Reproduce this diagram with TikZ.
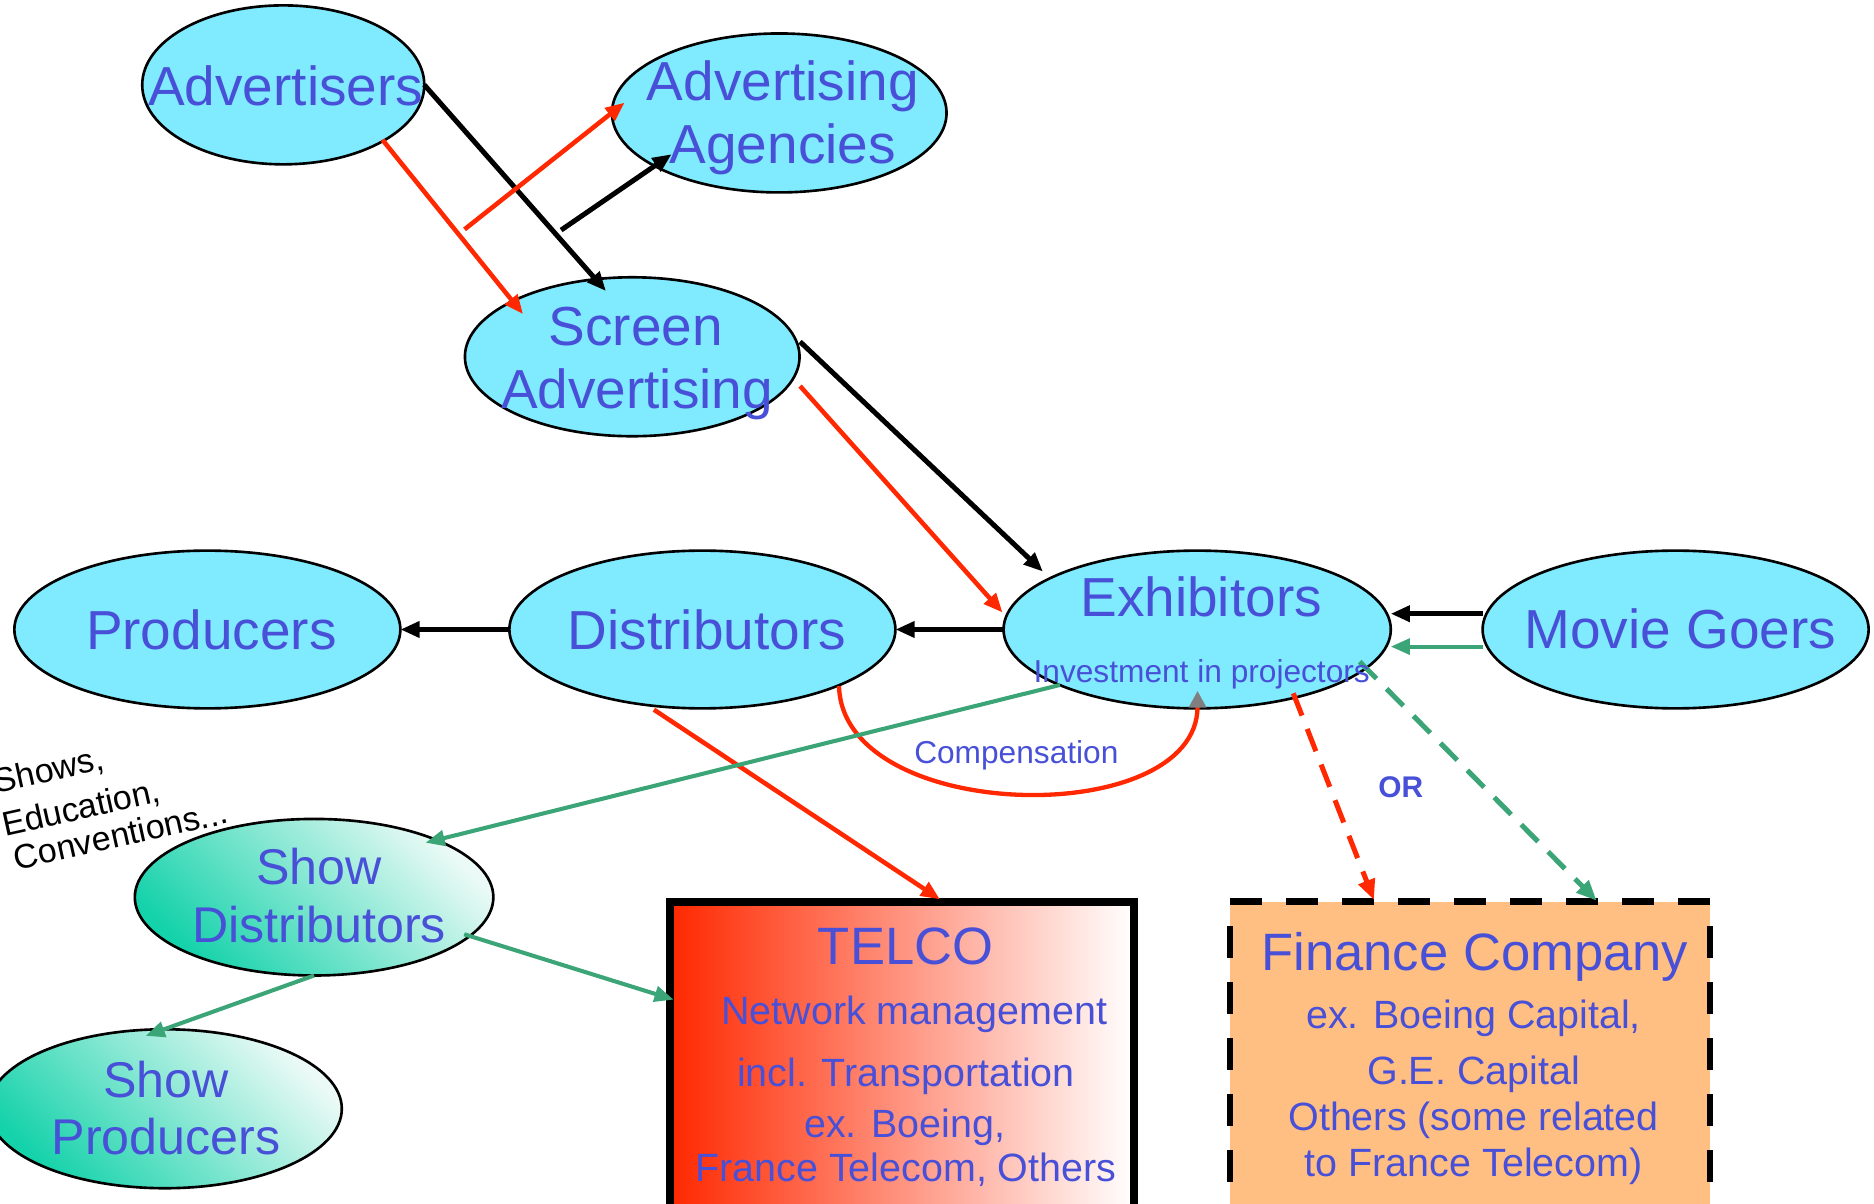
\documentclass[tikz,border=0pt]{standalone}
\usepackage{fontspec}
\setmainfont{Liberation Sans}
\usetikzlibrary{shapes.geometric,arrows.meta,calc}
\definecolor{cyanF}{RGB}{128,234,255}
\definecolor{tblue}{RGB}{72,80,216}
\definecolor{redc}{RGB}{255,40,0}
\definecolor{greenc}{RGB}{60,165,120}
\definecolor{orangeF}{RGB}{255,190,130}
\definecolor{tealA}{RGB}{20,210,170}
\definecolor{tealB}{RGB}{235,250,246}
\begin{document}
\begin{tikzpicture}[x=1pt,y=-1pt,
  ell/.style={ellipse,draw=black,line width=2.2pt,fill=cyanF,inner sep=0pt,outer sep=0pt},
  showell/.style={ellipse,draw=black,line width=2.2pt,inner sep=0pt,outer sep=0pt,bottom color=tealA,top color=tealB,shading angle=-45},
  bigtxt/.style={font=\fontsize{46}{50}\selectfont,text=tblue,anchor=base,inner sep=0pt},
  showtxt/.style={font=\fontsize{42}{46}\selectfont,text=tblue,anchor=base,inner sep=0pt},
  midtxt/.style={font=\fontsize{33}{38}\selectfont,text=tblue,anchor=base,inner sep=0pt},
  ttltxt/.style={font=\fontsize{44}{50}\selectfont,text=tblue,anchor=base,inner sep=0pt},
  smalltxt/.style={font=\fontsize{26.5}{30}\selectfont,text=tblue,anchor=base,inner sep=0pt},
  ortxt/.style={font=\fontsize{25}{30}\selectfont\bfseries,text=tblue,anchor=base,inner sep=0pt},
  showstxt/.style={font=\fontsize{28.5}{32}\selectfont,text=black,anchor=base west,inner sep=0pt,rotate=12.5},
  arr/.style={-{Triangle[length=16pt,width=13pt]}},
  blk/.style={arr,line width=4.2pt,draw=black},
  rd/.style={arr,line width=3.8pt,draw=redc},
  gr/.style={arr,line width=3.4pt,draw=greenc},
  dsh/.style={line width=4.2pt,dash pattern=on 20pt off 12pt,-{Triangle[length=17pt,width=14pt]}},
  fdash/.style={line width=5.6pt,draw=black,dash pattern=on 26.5pt off 20.4pt},
]
\useasboundingbox (0,0) rectangle (1568,1007);
% ellipses
\node[ell,minimum width=236pt,minimum height=133pt] (adv) at (237,71) {};
\node[ell,minimum width=280pt,minimum height=133pt] (age) at (652,94.5) {};
\node[ell,minimum width=280pt,minimum height=133pt] (scr) at (529,298.5) {};
\node[ell,minimum width=323pt,minimum height=132pt] (pro) at (173.5,526.7) {};
\node[ell,minimum width=323pt,minimum height=132pt] (dis) at (587.7,526.7) {};
\node[ell,minimum width=324pt,minimum height=132pt] (exh) at (1001.7,526.7) {};
\node[ell,minimum width=323pt,minimum height=132pt] (mov) at (1402,526.7) {};
\node[showell,minimum width=300pt,minimum height=131pt] (sdi) at (262.8,750.7) {};
\node[showell,minimum width=296pt,minimum height=133pt] (spr) at (138,927.7) {};
% boxes
\node[draw=black,line width=6.7pt,left color=redc,right color=white,minimum width=388pt,minimum height=256pt,inner sep=0pt,outer sep=0pt] (tel) at (754.6,882.4) {};
\node[fill=orangeF,minimum width=401.6pt,minimum height=256pt,inner sep=0pt,outer sep=0pt] (fin) at (1229.9,882.4) {};
\draw[fdash] (fin.north west) -- (fin.north east);
\draw[fdash,dash phase=26.5pt] (fin.north west) -- (fin.south west);
\draw[fdash,dash phase=26.5pt] (fin.north east) -- (fin.south east);
\draw[fdash] (fin.south west) -- (fin.south east);
% connectors
\coordinate (m1) at (469.5,192.5);
\coordinate (m2) at (388.7,191.9);
\draw[blk] (adv.east) -- ($(scr.center)+(-22,-55)$);
\draw[blk] (m1) -- ($(age.center)+(-90,34.5)$);
\draw[rd] ($(adv.center)+(83,46)$) -- ($(scr.center)+(-91.4,-35.7)$);
\draw[rd] (m2) -- ($(age.center)+(-129.4,-8.6)$);
\draw[blk] ($(scr.center)+(140.4,-12.6)$) -- ($(exh.center)+(-129.1,-48.5)$);
\draw[rd] ($(scr.center)+(140.4,24.5)$) -- ($(exh.center)+(-162.9,-14.2)$);
\draw[blk] (exh.west) -- (dis.east);
\draw[blk] (dis.west) -- (pro.east);
\draw[blk] ($(mov.center)+(-161,-13.2)$) -- ($(exh.center)+(161.9,-13.2)$);
\draw[gr] ($(mov.center)+(-161,14.3)$) -- ($(exh.center)+(161.9,14.3)$);
\draw[rd] ($(dis.center)+(-40.5,67.1)$) -- ($(tel.north west)+(225.9,-1.9)$);
\draw[line width=3.6pt,draw=redc,-{Triangle[length=14pt,width=14pt,color=gray]}]
  ($(dis.center)+(114.3,47.3)$) .. controls (705,690) and (1002,695) .. ($(exh.center)+(0.3,51.3)$);
\draw[gr] ($(exh.center)+(-114.8,46.4)$) -- ($(sdi.center)+(93.3,-45.6)$);
\draw[gr] ($(sdi.center)+(125.6,31)$) -- ($(tel.north west)+(3,82)$);
\draw[gr] (sdi.south) -- ($(spr.center)+(-16.1,-61)$);
\draw[dsh,draw=redc] ($(exh.center)+(80.4,53.4)$) -- ($(fin.north west)+(120.5,-1.4)$);
\draw[dsh,draw=greenc] ($(exh.center)+(135.9,26.9)$) -- ($(fin.north west)+(306.8,-0.8)$);
% texts
\node[bigtxt] (tadv) at (239,88) {Advertisers};
\node[bigtxt] (tage1) at (655,84) {Advertising};
\node[bigtxt] (tage2) at (655,137) {Agencies};
\node[bigtxt] (tscr1) at (532,289) {Screen};
\node[bigtxt] (tscr2) at (533,341.5) {Advertising};
\node[bigtxt] (tpro) at (176.8,543.5) {Producers};
\node[bigtxt] (tdis) at (591.5,543.5) {Distributors};
\node[bigtxt] (texh) at (1005,516) {Exhibitors};
\node[smalltxt] (tinv) at (1005.5,570.8) {Investment in projectors};
\node[bigtxt] (tmov) at (1406,542.8) {Movie Goers};
\node[showtxt] (tsd1) at (267,740) {Show};
\node[showtxt] (tsd2) at (267,788.3) {Distributors};
\node[showtxt] (tsp1) at (139,918.5) {Show};
\node[showtxt] (tsp2) at (139,966) {Producers};
\node[ttltxt] (ttel) at (757.7,806.6) {TELCO};
\node[midtxt] (ttel1) at (765,857.6) {Network management};
\node[midtxt] (ttel2) at (758,908.7) {incl. Transportation};
\node[midtxt] (ttel3) at (757,951.6) {ex. Boeing,};
\node[midtxt] (ttel4) at (758,988.7) {France Telecom, Others};
\node[ttltxt] (tfin) at (1234,812.1) {Finance Company};
\node[midtxt] (tfin1) at (1233,860.4) {ex. Boeing Capital,};
\node[midtxt] (tfin2) at (1233,907.8) {G.E. Capital};
\node[midtxt] (tfin3) at (1233,945.5) {Others (some related};
\node[midtxt] (tfin4) at (1233,984) {to France Telecom)};
\node[smalltxt] (tcomp) at (850.4,639.2) {Compensation};
\node[ortxt] (tor) at (1172,667.2) {OR};
\node[showstxt] (tsh1) at (-3,663.8) {Shows,};
\node[showstxt] (tsh2) at (4,700) {Education,};
\node[showstxt] (tsh3) at (14,728) {Conventions...};
\end{tikzpicture}
\end{document}
